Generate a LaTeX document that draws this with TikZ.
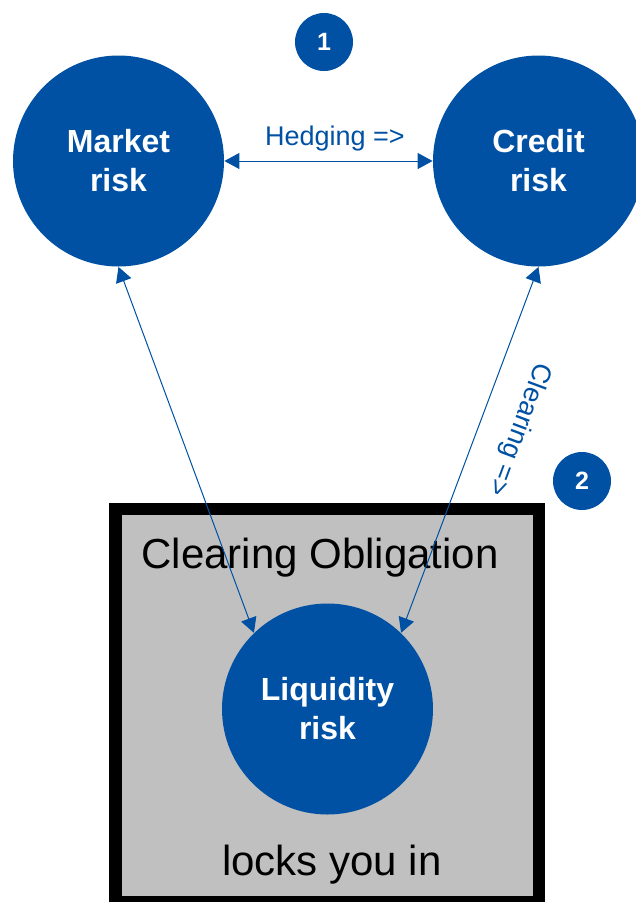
\documentclass[tikz,border=0pt]{standalone}
\usepackage{fontspec}
\setmainfont{Liberation Sans}
\usetikzlibrary{arrows.meta,positioning}
\definecolor{riskblue}{RGB}{0,81,163}
\definecolor{boxgray}{RGB}{192,192,192}

\begin{document}
\begin{tikzpicture}[
    x=0.5pt, y=-0.5pt,
    >={Triangle[length=7.5pt,width=8pt]},
    risk/.style={
        circle,
        fill=riskblue,
        minimum size=105.5pt,
        inner sep=0pt,
        align=center,
        text=white,
        font=\fontsize{16}{19.5}\selectfont\bfseries
    },
    badge/.style={
        circle,
        fill=riskblue,
        minimum size=29pt,
        inner sep=0pt,
        text=white,
        font=\fontsize{12.5}{15}\selectfont\bfseries
    },
    link/.style={<->, draw=riskblue, line width=0.5pt},
    tag/.style={text=riskblue, font=\fontsize{13.5}{16}\selectfont},
    big/.style={anchor=base, font=\fontsize{21}{25}\selectfont}
]
\useasboundingbox (0,0) rectangle (636,902);
\clip (0,0) rectangle (636,902);

%-----------------------------------
% Frame: clearing obligation
%-----------------------------------
\draw[line width=6.2pt, fill=boxgray] (115.5,509) rectangle (539,902);

\node[big] (Oblig) at (320,568) {Clearing Obligation};
\node[big] (Locks) at (332,875) {locks you in};

%-----------------------------------
% Risk circles and badges
%-----------------------------------
\node[risk] (Market)    at (118.5,161) {Market\\risk};
\node[risk] (Credit)    at (538.5,161) {Credit\\risk};
\node[risk] (Liquidity) at (327.5,709) {Liquidity\\risk};

\node[badge] (One) at (324,42)  {1};
\node[badge] (Two) at (582,481) {2};

%-----------------------------------
% Arrows
%-----------------------------------
\draw[link] (Market.east)  -- (Credit.west);
\draw[link] (Market.south) -- (Liquidity.134);
\draw[link] (Credit.south) -- (Liquidity.46);

\node[tag, anchor=base] (Hedge) at (335,145) {Hedging =>};
\node[tag, rotate=-110.4] (Clear) at (519,429) {Clearing =>};

\end{tikzpicture}
\end{document}
